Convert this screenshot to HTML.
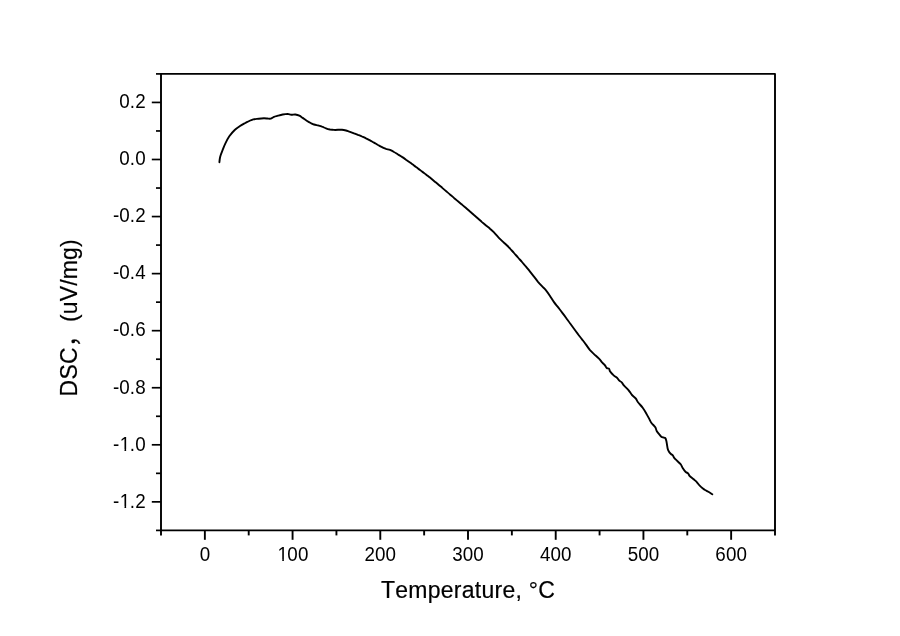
<!DOCTYPE html>
<html lang="en">
<head>
<meta charset="utf-8">
<title>DSC curve</title>
<style>
html,body{margin:0;padding:0;background:#fff;}
body{width:900px;height:636px;overflow:hidden;}
svg{display:block;font-family:"Liberation Sans","Noto Sans CJK SC",sans-serif;}
text{font-kerning:none;font-variant-ligatures:none;}
</style>
</head>
<body>
<svg width="900" height="636" viewBox="0 0 900 636">
<rect x="0" y="0" width="900" height="636" fill="#fff"/>
<g stroke="#000" stroke-width="1.9" fill="none">
<rect x="161.0" y="73.9" width="614.0" height="456.50" stroke-linejoin="round"/>
<line x1="156.00" y1="73.90" x2="161.00" y2="73.90" stroke-width="1.7"/>
<line x1="151.80" y1="102.43" x2="161.00" y2="102.43" stroke-width="1.7"/>
<line x1="156.00" y1="130.96" x2="161.00" y2="130.96" stroke-width="1.7"/>
<line x1="151.80" y1="159.49" x2="161.00" y2="159.49" stroke-width="1.7"/>
<line x1="156.00" y1="188.03" x2="161.00" y2="188.03" stroke-width="1.7"/>
<line x1="151.80" y1="216.56" x2="161.00" y2="216.56" stroke-width="1.7"/>
<line x1="156.00" y1="245.09" x2="161.00" y2="245.09" stroke-width="1.7"/>
<line x1="151.80" y1="273.62" x2="161.00" y2="273.62" stroke-width="1.7"/>
<line x1="156.00" y1="302.15" x2="161.00" y2="302.15" stroke-width="1.7"/>
<line x1="151.80" y1="330.68" x2="161.00" y2="330.68" stroke-width="1.7"/>
<line x1="156.00" y1="359.21" x2="161.00" y2="359.21" stroke-width="1.7"/>
<line x1="151.80" y1="387.74" x2="161.00" y2="387.74" stroke-width="1.7"/>
<line x1="156.00" y1="416.28" x2="161.00" y2="416.28" stroke-width="1.7"/>
<line x1="151.80" y1="444.81" x2="161.00" y2="444.81" stroke-width="1.7"/>
<line x1="156.00" y1="473.34" x2="161.00" y2="473.34" stroke-width="1.7"/>
<line x1="151.80" y1="501.87" x2="161.00" y2="501.87" stroke-width="1.7"/>
<line x1="156.00" y1="530.40" x2="161.00" y2="530.40" stroke-width="1.7"/>
<line x1="161.00" y1="530.40" x2="161.00" y2="535.40"/>
<line x1="204.86" y1="530.40" x2="204.86" y2="539.80"/>
<line x1="248.71" y1="530.40" x2="248.71" y2="535.40"/>
<line x1="292.57" y1="530.40" x2="292.57" y2="539.80"/>
<line x1="336.43" y1="530.40" x2="336.43" y2="535.40"/>
<line x1="380.29" y1="530.40" x2="380.29" y2="539.80"/>
<line x1="424.14" y1="530.40" x2="424.14" y2="535.40"/>
<line x1="468.00" y1="530.40" x2="468.00" y2="539.80"/>
<line x1="511.86" y1="530.40" x2="511.86" y2="535.40"/>
<line x1="555.71" y1="530.40" x2="555.71" y2="539.80"/>
<line x1="599.57" y1="530.40" x2="599.57" y2="535.40"/>
<line x1="643.43" y1="530.40" x2="643.43" y2="539.80"/>
<line x1="687.29" y1="530.40" x2="687.29" y2="535.40"/>
<line x1="731.14" y1="530.40" x2="731.14" y2="539.80"/>
<line x1="775.00" y1="530.40" x2="775.00" y2="535.40"/>
</g>
<path d="M219.4,162.2 C219.5,161.3 219.7,158.6 220.2,156.7 C220.7,154.8 221.5,152.8 222.4,150.6 C223.3,148.4 224.2,145.7 225.4,143.3 C226.6,140.9 227.8,138.5 229.3,136.3 C230.9,134.1 232.9,131.7 234.7,130.0 C236.5,128.3 238.2,127.2 240.0,126.0 C241.8,124.8 243.8,123.8 245.3,123.0 C246.9,122.2 248.0,121.6 249.3,121.0 C250.6,120.4 251.7,119.7 253.3,119.3 C254.9,118.9 256.9,118.9 258.7,118.7 C260.5,118.5 262.6,118.3 264.0,118.3 C265.4,118.3 266.2,118.4 267.3,118.5 C268.4,118.6 269.6,119.0 270.7,118.7 C271.8,118.4 272.8,117.3 274.0,116.8 C275.2,116.3 276.6,116.1 278.0,115.7 C279.4,115.3 281.1,114.8 282.7,114.5 C284.3,114.2 286.3,113.9 287.7,113.9 C289.1,114.0 290.0,114.7 291.3,114.8 C292.6,114.9 294.0,114.3 295.3,114.5 C296.6,114.7 298.1,115.1 299.3,115.7 C300.5,116.3 301.5,117.1 302.7,117.9 C303.9,118.7 305.4,119.9 306.7,120.7 C308.0,121.5 309.5,122.4 310.7,123.0 C311.9,123.6 312.8,124.1 314.0,124.5 C315.2,124.9 316.7,125.1 318.0,125.4 C319.3,125.8 320.7,126.2 322.0,126.7 C323.3,127.1 324.7,127.9 326.0,128.3 C327.3,128.8 328.7,129.2 330.0,129.5 C331.3,129.7 332.7,129.9 334.0,129.9 C335.3,130.0 336.7,129.9 338.0,129.8 C339.3,129.8 340.7,129.7 342.0,129.8 C343.3,129.9 344.7,130.2 346.0,130.5 C347.3,130.9 348.7,131.4 350.0,131.8 C351.3,132.3 352.7,132.8 354.0,133.3 C355.3,133.8 356.7,134.3 358.0,134.9 C359.3,135.4 360.7,135.9 362.0,136.5 C363.3,137.1 364.7,137.7 366.0,138.4 C367.3,139.0 368.7,139.7 370.0,140.4 C371.3,141.1 372.7,141.9 374.0,142.6 C375.3,143.4 376.7,144.2 378.0,145.0 C379.3,145.7 380.7,146.6 382.0,147.2 C383.3,147.9 384.7,148.4 386.0,148.9 C387.3,149.3 388.7,149.4 390.0,149.9 C391.3,150.5 392.7,151.2 394.0,152.0 C395.3,152.7 396.7,153.7 398.0,154.5 C399.3,155.3 400.7,156.0 402.0,156.9 C403.3,157.7 404.7,158.7 406.0,159.7 C407.3,160.6 408.7,161.6 410.0,162.6 C411.3,163.6 412.7,164.5 414.0,165.5 C415.3,166.5 416.7,167.4 418.0,168.4 C419.3,169.4 420.7,170.4 422.0,171.4 C423.3,172.4 424.7,173.4 426.0,174.4 C427.3,175.5 428.7,176.5 430.0,177.6 C431.3,178.7 432.7,179.8 434.0,180.9 C435.3,182.0 436.7,183.1 438.0,184.2 C439.3,185.4 440.7,186.5 442.0,187.6 C443.3,188.8 444.7,189.9 446.0,191.1 C447.3,192.2 448.7,193.3 450.0,194.5 C451.3,195.6 452.7,196.7 454.0,197.9 C455.3,199.0 456.7,200.1 458.0,201.3 C459.3,202.4 460.7,203.5 462.0,204.6 C463.3,205.8 464.7,206.9 466.0,208.0 C467.3,209.2 468.7,210.3 470.0,211.5 C471.3,212.6 472.7,213.8 474.0,215.0 C475.3,216.1 476.7,217.3 478.0,218.5 C479.3,219.7 480.7,220.9 482.0,222.1 C483.3,223.2 484.7,224.4 486.0,225.5 C487.3,226.6 488.7,227.5 490.0,228.7 C491.3,229.8 492.7,231.0 494.0,232.4 C495.3,233.8 496.7,235.5 498.0,236.9 C499.3,238.3 500.7,239.6 502.0,240.9 C503.3,242.2 504.7,243.2 506.0,244.5 C507.3,245.8 508.7,247.1 510.0,248.5 C511.3,250.0 512.7,251.5 514.0,253.0 C515.3,254.5 516.7,256.0 518.0,257.5 C519.3,259.0 520.7,260.5 522.0,262.0 C523.3,263.6 524.7,265.1 526.0,266.7 C527.3,268.3 528.7,269.9 530.0,271.6 C531.3,273.3 532.7,275.0 534.0,276.7 C535.3,278.4 536.7,280.2 538.0,281.8 C539.3,283.3 540.7,284.8 542.0,286.2 C543.3,287.6 544.7,288.7 546.0,290.3 C547.3,291.9 548.7,293.9 550.0,295.9 C551.3,297.9 552.7,300.2 554.0,302.1 C555.3,304.0 556.7,305.5 558.0,307.2 C559.3,308.9 560.7,310.6 562.0,312.4 C563.3,314.1 564.7,315.9 566.0,317.7 C567.3,319.6 568.7,321.4 570.0,323.3 C571.3,325.1 572.7,327.0 574.0,328.8 C575.3,330.6 576.7,332.5 578.0,334.2 C579.3,336.0 580.7,337.6 582.0,339.3 C583.3,341.0 584.7,342.8 586.0,344.6 C587.3,346.4 588.7,348.6 590.0,350.2 C591.3,351.7 592.5,352.7 594.0,354.1 C595.5,355.5 597.6,357.3 599.0,358.7 C600.4,360.1 601.3,361.6 602.3,362.7 C603.3,363.8 604.3,364.4 605.0,365.3 C605.7,366.2 606.0,367.4 606.7,368.0 C607.4,368.6 608.5,368.1 609.0,368.7 C609.5,369.2 609.5,370.4 610.0,371.3 C610.5,372.2 611.5,373.2 612.3,374.0 C613.1,374.8 613.9,375.7 614.7,376.3 C615.5,376.9 616.2,377.0 617.0,377.7 C617.8,378.4 618.5,379.9 619.3,380.7 C620.1,381.5 620.9,381.5 621.7,382.3 C622.5,383.1 622.9,384.3 624.1,385.6 C625.3,386.9 627.4,388.7 628.7,390.3 C630.0,391.9 630.8,393.7 632.0,395.0 C633.2,396.3 634.7,397.1 635.7,398.3 C636.7,399.5 636.8,400.7 638.0,402.3 C639.2,403.9 641.4,405.9 642.7,407.7 C644.0,409.5 645.0,411.2 646.0,413.0 C647.0,414.8 648.1,416.8 649.0,418.4 C649.9,420.0 650.2,421.2 651.3,422.7 C652.3,424.2 654.4,425.9 655.3,427.3 C656.2,428.7 656.0,429.8 656.7,431.0 C657.4,432.2 658.5,433.4 659.3,434.3 C660.1,435.2 660.6,436.2 661.3,436.7 C662.0,437.2 662.6,437.3 663.3,437.5 C663.9,437.7 664.7,437.5 665.2,438.0 C665.7,438.5 666.0,439.6 666.3,440.7 C666.6,441.8 666.8,443.4 667.0,444.7 C667.2,446.0 667.4,447.5 667.7,448.7 C668.0,449.9 668.5,450.8 669.0,451.7 C669.5,452.6 670.4,453.4 671.0,454.0 C671.6,454.6 672.3,454.7 672.8,455.3 C673.3,455.9 673.5,456.9 674.2,457.8 C675.0,458.8 676.2,459.9 677.3,461.0 C678.4,462.1 679.8,463.1 680.7,464.3 C681.6,465.5 681.9,466.7 682.7,468.0 C683.5,469.3 684.8,471.1 685.7,472.0 C686.6,472.9 687.3,472.6 688.0,473.3 C688.7,474.0 688.8,475.0 689.7,476.0 C690.7,477.0 692.5,478.2 693.7,479.3 C694.9,480.4 696.0,481.2 697.0,482.3 C698.0,483.4 698.8,484.8 699.7,485.7 C700.6,486.6 701.4,487.3 702.3,488.0 C703.2,488.7 704.0,489.4 705.0,490.0 C706.0,490.6 707.1,491.0 708.3,491.7 C709.5,492.4 711.6,493.9 712.3,494.3" stroke="#000" stroke-width="1.9" fill="none" stroke-linejoin="round" stroke-linecap="round"/>
<g font-size="20.9" fill="#000">
<text transform="translate(119.27 108) scale(0.9 1)" letter-spacing="0.1">0.2</text>
<text transform="translate(119.27 165) scale(0.9 1)" letter-spacing="0.1">0.0</text>
<text transform="translate(112.92 222) scale(0.9 1)" letter-spacing="0.1">-0.2</text>
<text transform="translate(112.92 279) scale(0.9 1)" letter-spacing="0.1">-0.4</text>
<text transform="translate(112.92 336) scale(0.9 1)" letter-spacing="0.1">-0.6</text>
<text transform="translate(112.92 394) scale(0.9 1)" letter-spacing="0.1">-0.8</text>
<text transform="translate(112.92 451) scale(0.9 1)" letter-spacing="0.1">-<tspan dx="0.67">1</tspan><tspan dx="-0.67">.0</tspan></text>
<text transform="translate(112.92 508) scale(0.9 1)" letter-spacing="0.1">-<tspan dx="0.67">1</tspan><tspan dx="-0.67">.2</tspan></text>
<text transform="translate(199.63 561) scale(0.9 1)" letter-spacing="0.1">0</text>
<text transform="translate(276.79 561) scale(0.9 1)" letter-spacing="0.1"><tspan dx="0.67">1</tspan><tspan dx="-0.67">00</tspan></text>
<text transform="translate(364.50 561) scale(0.9 1)" letter-spacing="0.1">200</text>
<text transform="translate(452.22 561) scale(0.9 1)" letter-spacing="0.1">300</text>
<text transform="translate(539.93 561) scale(0.9 1)" letter-spacing="0.1">400</text>
<text transform="translate(627.65 561) scale(0.9 1)" letter-spacing="0.1">500</text>
<text transform="translate(715.36 561) scale(0.9 1)" letter-spacing="0.1">600</text>
</g>
<g fill="#fff">
<rect x="121" y="449" width="3.49" height="2"/>
<rect x="126.14" y="449" width="3.86" height="2"/>
<rect x="121" y="506" width="3.49" height="2"/>
<rect x="126.14" y="506" width="3.86" height="2"/>
<rect x="278" y="559" width="4.25" height="2"/>
<rect x="283.87" y="559" width="4.13" height="2"/>
</g>
<g font-size="24.1" stroke="#000" stroke-width="0.2">
<text transform="translate(380.95 598) scale(0.954 1)" letter-spacing="0.285">Temperature, °C</text>
<text transform="translate(77 396.4) rotate(-90) scale(0.954 1)" letter-spacing="0.3">DSC， <tspan x="77.99" letter-spacing="0.15">(uV/mg)</tspan></text>
</g>
</svg>
</body>
</html>
